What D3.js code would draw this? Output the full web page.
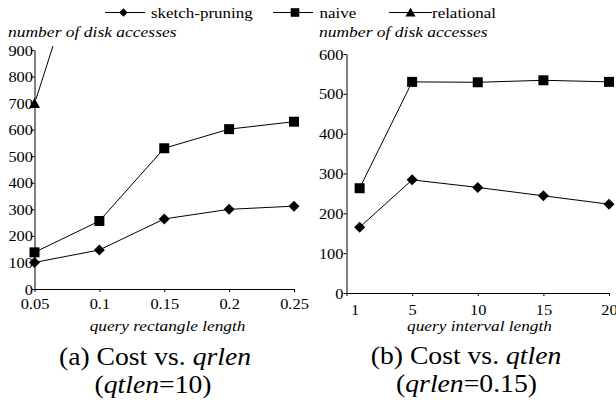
<!DOCTYPE html>
<html><head><meta charset="utf-8">
<script src="https://cdn.jsdelivr.net/npm/d3@7"></script>
<style>
html,body{margin:0;padding:0;background:#fff;}
svg{display:block;font-family:"Liberation Serif","Times New Roman",serif;}
</style></head>
<body>
<script>
// ---- data ----
const seriesNames = ["sketch-pruning", "naive", "relational"];
const qrlenValues = [0.05, 0.1, 0.15, 0.2, 0.25];
const qrlenTickLabels = ["0.05", "0.1", "0.15", "0.2", "0.25"];
const sketchA = [100, 147, 264, 300, 312];
const naiveA = [138, 256, 530, 602, 630];
const relationalA = [700]; // only at qrlen = 0.05
const yTicksA = [0, 100, 200, 300, 400, 500, 600, 700, 800, 900];

const qtlenValues = [1, 5, 10, 15, 20];
const qtlenTickPositions = [0, 5, 10, 15, 20];
const qtlenTickLabels = ["1", "5", "10", "15", "20"];
const sketchB = [165, 284, 265, 244, 223];
const naiveB = [263, 530, 529, 534, 530];
const yTicksB = [0, 100, 200, 300, 400, 500, 600];

const yTitle = "number of disk accesses";
const xTitleA = "query rectangle length";
const xTitleB = "query interval length";

// ---- setup ----
const W = 616, H = 402, SX = 1.13;
const svg = d3.select("body").append("svg").attr("width", W).attr("height", H);

function stext(g, x, y, str, size, anchor, italic) {
  const t = g.append("text")
    .attr("transform", `translate(${x},${y}) scale(${SX},1)`)
    .attr("text-anchor", anchor || "start")
    .attr("font-size", size)
    .attr("fill", "#000");
  if (italic) t.attr("font-style", "italic");
  if (typeof str === "string") t.text(str);
  else str.forEach(p => t.append("tspan").attr("font-style", p.i ? "italic" : "normal").text(p.t));
  return t;
}

function diamond(r) { return `M0,${-r}L${r},0L0,${r}L${-r},0Z`; }
function square(r) { return `M${-r},${-r}H${r}V${r}H${-r}Z`; }
function triangle(r) { return `M0,${-r}L${r},${r*0.8}L${-r},${r*0.8}Z`; }

// ---- legend ----
const leg = svg.append("g");
const legItems = [
  {x1: 105, x2: 145, mx: 123.5, tx: 151, shape: diamond(4.2)},
  {x1: 273, x2: 313, mx: 295, tx: 319.5, shape: square(4.3)},
  {x1: 389, x2: 432, mx: 410.5, tx: 432, shape: triangle(5)}
];
legItems.forEach((it, i) => {
  leg.append("line").attr("x1", it.x1).attr("x2", it.x2).attr("y1", 12.5).attr("y2", 12.5)
    .attr("stroke", "#000").attr("stroke-width", 1);
  leg.append("path").attr("d", it.shape).attr("transform", `translate(${it.mx},12.5)`).attr("fill", "#000");
  stext(leg, it.tx, 17.5, seriesNames[i], 15, "start");
});

function styleAxis(g) {
  g.select(".domain").attr("stroke", "#000").attr("stroke-width", 1);
  g.selectAll(".tick line").attr("stroke", "#000");
  g.selectAll(".tick text").attr("font-size", 14.5).attr("font-family", "Liberation Serif, serif").attr("fill", "#000");
}

// ---- chart A ----
const xA = d3.scaleLinear().domain([0.05, 0.25]).range([34.5, 294]);
const yA = d3.scaleLinear().domain([0, 900]).range([289, 50]);
const gA = svg.append("g");

const axAy = gA.append("g").attr("transform", `translate(${xA.range()[0]},0)`)
  .call(d3.axisLeft(yA).tickValues(yTicksA).tickSize(3).tickSizeOuter(0).tickFormat(d3.format("d")));
styleAxis(axAy);
axAy.selectAll(".tick text").attr("x", null).attr("dy", null)
  .attr("transform", `translate(-1.5,5) scale(${SX},1)`);

const axAx = gA.append("g").attr("transform", `translate(0,${yA.range()[0]})`)
  .call(d3.axisBottom(xA).tickValues(qrlenValues).tickSize(3).tickSizeOuter(0)
    .tickFormat((d, i) => qrlenTickLabels[i]));
styleAxis(axAx);
axAx.selectAll(".tick text").attr("y", null).attr("dy", null)
  .attr("transform", `translate(0,20) scale(${SX},1)`);

const lineA = d3.line().x(d => xA(d[0])).y(d => yA(d[1]));
gA.append("path").datum(qrlenValues.map((v, i) => [v, naiveA[i]])).attr("d", lineA)
  .attr("fill", "none").attr("stroke", "#000").attr("stroke-width", 1);
gA.append("path").datum(qrlenValues.map((v, i) => [v, sketchA[i]])).attr("d", lineA)
  .attr("fill", "none").attr("stroke", "#000").attr("stroke-width", 1);
gA.selectAll(".nA").data(naiveA).join("path").attr("d", square(5))
  .attr("transform", (d, i) => `translate(${xA(qrlenValues[i])},${yA(d)})`).attr("fill", "#000");
gA.selectAll(".sA").data(sketchA).join("path").attr("d", diamond(5.5))
  .attr("transform", (d, i) => `translate(${xA(qrlenValues[i])},${yA(d)})`).attr("fill", "#000");
gA.selectAll(".rA").data(relationalA).join("path").attr("d", triangle(5.5))
  .attr("transform", (d, i) => `translate(${xA(qrlenValues[i])},${yA(d) + 0.5})`).attr("fill", "#000");
// callout line from y title to relational point
gA.append("line").attr("x1", 53).attr("y1", 46)
  .attr("x2", xA(qrlenValues[0]) + 1.5).attr("y2", yA(relationalA[0]) - 4)
  .attr("stroke", "#000").attr("stroke-width", 1);

stext(gA, 8, 37, yTitle, 15.5, "start", true);
stext(gA, 167.5, 331, xTitleA, 15.3, "middle", true);
stext(gA, 155, 364.5, [{t: "(a) Cost vs. "}, {t: "qrlen", i: true}], 24.5, "middle");
stext(gA, 153, 392.5, [{t: "("}, {t: "qtlen", i: true}, {t: "=10)"}], 24.5, "middle");

// ---- chart B ----
const xB = d3.scaleLinear().domain([0, 20]).range([346.5, 609]);
const yB = d3.scaleLinear().domain([0, 600]).range([293, 54]);
const gB = svg.append("g");

const axBy = gB.append("g").attr("transform", `translate(${xB.range()[0]},0)`)
  .call(d3.axisLeft(yB).tickValues(yTicksB).tickSize(3).tickSizeOuter(0).tickFormat(d3.format("d")));
styleAxis(axBy);
axBy.selectAll(".tick text").attr("x", null).attr("dy", null)
  .attr("transform", `translate(-3,5) scale(${SX},1)`);

const axBx = gB.append("g").attr("transform", `translate(0,${yB.range()[0]})`)
  .call(d3.axisBottom(xB).tickValues(qtlenTickPositions).tickSize(3).tickSizeOuter(0)
    .tickFormat((d, i) => qtlenTickLabels[i]));
styleAxis(axBx);
axBx.selectAll(".tick text").attr("y", null).attr("dy", null)
  .attr("transform", (d, i) => `translate(${i === 0 ? 8 : 0},22) scale(${SX},1)`);

const lineB = d3.line().x(d => xB(d[0])).y(d => yB(d[1]));
gB.append("path").datum(qtlenValues.map((v, i) => [v, naiveB[i]])).attr("d", lineB)
  .attr("fill", "none").attr("stroke", "#000").attr("stroke-width", 1);
gB.append("path").datum(qtlenValues.map((v, i) => [v, sketchB[i]])).attr("d", lineB)
  .attr("fill", "none").attr("stroke", "#000").attr("stroke-width", 1);
gB.selectAll(".nB").data(naiveB).join("path").attr("d", square(5))
  .attr("transform", (d, i) => `translate(${xB(qtlenValues[i])},${yB(d)})`).attr("fill", "#000");
gB.selectAll(".sB").data(sketchB).join("path").attr("d", diamond(5.5))
  .attr("transform", (d, i) => `translate(${xB(qtlenValues[i])},${yB(d)})`).attr("fill", "#000");

stext(gB, 319, 37, yTitle, 15.5, "start", true);
stext(gB, 479.5, 331, xTitleB, 15.3, "middle", true);
stext(gB, 466, 363.5, [{t: "(b) Cost vs. "}, {t: "qtlen", i: true}], 24.5, "middle");
stext(gB, 466.5, 391.5, [{t: "("}, {t: "qrlen", i: true}, {t: "=0.15)"}], 24.5, "middle");
</script>
</body></html>
